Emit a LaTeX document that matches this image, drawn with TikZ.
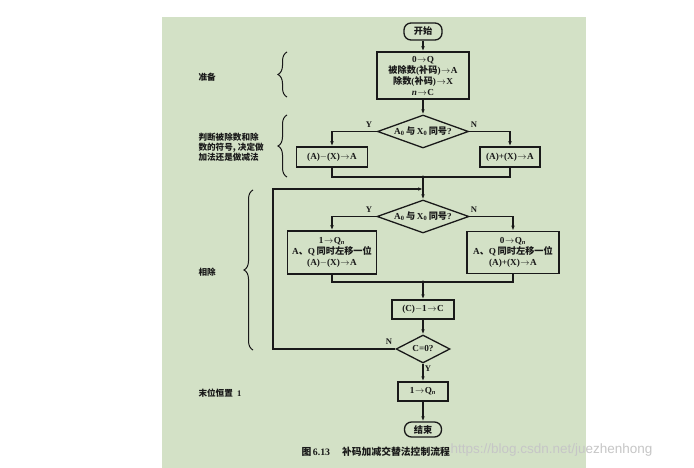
\documentclass[tikz,border=0pt]{standalone}
\usepackage{fontspec}
\setmainfont{Liberation Serif}
\newfontfamily\cjk{Noto Sans CJK SC}
\newfontfamily\wmfont{Liberation Sans}
\usetikzlibrary{shapes.geometric,arrows.meta,decorations.pathreplacing}
\definecolor{bggreen}{RGB}{211,225,198}
\definecolor{ink}{RGB}{25,25,25}
\newcommand\tto{\kern0.5pt$\rightarrow$\kern0.5pt}
\begin{document}
\begin{tikzpicture}[x=1pt,y=-1pt,
  every node/.style={font=\fontsize{9.2}{11}\selectfont\bfseries, text=ink},
  box/.style={draw=ink, line width=1.5pt, rectangle, align=center, inner sep=1pt},
  term/.style={draw=ink, line width=1.3pt, rectangle, rounded corners=7pt, inner sep=0pt},
  dec/.style={draw=ink, line width=1.3pt, diamond, inner sep=0pt},
  conn/.style={draw=ink, line width=1.1pt},
  arr/.style={conn, -{Latex[length=5pt,width=3.6pt]}},
  lbl/.style={font=\fontsize{8.6}{10}\selectfont\bfseries},
  clbl/.style={font=\fontsize{8.6}{10}\selectfont\bfseries\cjk},
  brc/.style={draw=ink, line width=1pt, decorate, decoration={brace, amplitude=9pt}}
]
\fill[white] (0,0) rectangle (694,468);
\fill[bggreen] (162,17) rectangle (586,468);
\useasboundingbox (0,0) rectangle (694,468);

% main column
\node[term, minimum width=38pt, minimum height=17pt] (start) at (423,31.5) {\cjk 开始};
\node[box, minimum width=92pt, minimum height=47pt] (init) at (423,75.5)
  {0\tto Q\\{\cjk 被除数}({\cjk 补码})\tto A\\{\cjk 除数}({\cjk 补码})\tto X\\\textit{n}\tto C};
\node[dec, shape aspect=2.76, minimum width=91pt, minimum height=33pt] (d1) at (423,131.5)
  {A\textsubscript{0}\,{\cjk 与}\,X\textsubscript{0}\,{\cjk 同号}?};
\node[box, minimum width=71pt, minimum height=20pt] (l1) at (332,157) {(A)$-$(X)\tto A};
\node[box, minimum width=60pt, minimum height=20pt] (r1) at (510,157) {(A)+(X)\tto A};
\coordinate (m1) at (423,177);
\coordinate (j1) at (423,189);
\node[dec, shape aspect=2.8, minimum width=92pt, minimum height=33pt] (d2) at (423,216.5)
  {A\textsubscript{0}\,{\cjk 与}\,X\textsubscript{0}\,{\cjk 同号}?};
\node[box, minimum width=89pt, minimum height=43pt] (l2) at (332,252.5)
  {1\tto Q\textsubscript{\textit{n}}\\A{\cjk 、}Q\,{\cjk 同时左移一位}\\(A)$-$(X)\tto A};
\node[box, minimum width=92pt, minimum height=42pt] (r2) at (513,252.5)
  {0\tto Q\textsubscript{\textit{n}}\\A{\cjk 、}Q\,{\cjk 同时左移一位}\\(A)+(X)\tto A};
\coordinate (m2) at (423,282);
\node[box, minimum width=62pt, minimum height=19pt] (cb) at (423,309.5) {(C)$-$1\tto C};
\node[dec, shape aspect=1.93, minimum width=54pt, minimum height=28pt] (c0) at (423,349) {C=0?};
\coordinate (lp) at (273,349);
\node[box, minimum width=50pt, minimum height=19pt] (q) at (423,391.5) {1\tto Q\textsubscript{\textit{n}}};
\node[term, minimum width=37pt, minimum height=15pt] (end) at (423,429.5) {\cjk 结束};

% connectors
\draw[arr] (start) -- (init);
\draw[arr] (init) -- (d1);
\draw[arr] (d1.west) -| (l1.north);
\draw[arr] (d1.east) -| (r1.north);
\draw[conn] (l1.south) |- (m1) -| (r1.south);
\draw[arr] (m1) -- (d2.north);
\draw[arr] (c0.west) -- (lp) |- (j1);
\draw[arr] (d2.west) -| (l2.north);
\draw[arr] (d2.east) -| (r2.north);
\draw[conn] (l2.south) |- (m2) -| (r2.south);
\draw[arr] (m2) -- (cb);
\draw[arr] (cb) -- (c0);
\draw[arr] (c0) -- (q);
\draw[arr] (q) -- (end);
\fill[ink] (m1) circle (1.6pt);
\fill[ink] (m2) circle (1.6pt);

% Y/N labels
\node[lbl] (y1) at (369,125) {Y};
\node[lbl] (n1) at (474,125) {N};
\node[lbl] (y2) at (369,210) {Y};
\node[lbl] (n2) at (474,210) {N};
\node[lbl] (n3) at (389,342) {N};
\node[lbl] (y3) at (428,369) {Y};

% left labels and braces
\node[clbl, anchor=west] (t1) at (195,77) {准备};
\node[clbl, anchor=west, align=left] (t2) at (195,147) {判断被除数和除\\数的符号, 决定做\\加法还是做减法};
\node[clbl, anchor=west] (t3) at (195,272) {相除};
\node[lbl, anchor=west] (t4) at (195,393) {{\cjk 末位恒置}\ \ 1};
\draw[brc] (287,97) -- (287,52);
\draw[brc] (287,177) -- (287,115);
\draw[brc] (253,350) -- (253,190);

% caption and watermark
\node[font=\fontsize{9.8}{11}\selectfont\bfseries, anchor=west] (cap) at (298,452) {{\cjk 图}\,6.13\hspace{12pt}{\cjk 补码加减交替法控制流程}};
\node[font=\wmfont\fontsize{13.5}{13.5}\selectfont, text=gray!45, anchor=west] (wm) at (447,450) {https://blog.csdn.net/juezhenhong};
\end{tikzpicture}
\end{document}
